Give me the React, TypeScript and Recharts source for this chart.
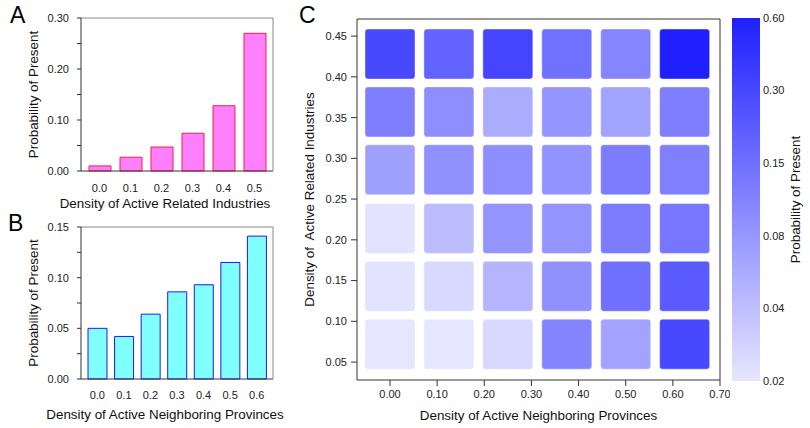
import {
  Bar,
  BarChart,
  ComposedChart,
  ReferenceArea,
  Scatter,
  ScatterChart,
  XAxis,
  YAxis,
} from 'recharts'

const FONT = '"Liberation Sans", Arial, Helvetica, sans-serif'

// Panel A
const relatedCats = ['0.0', '0.1', '0.2', '0.3', '0.4', '0.5']
const relatedProb = [0.01, 0.027, 0.047, 0.074, 0.128, 0.27]
const aTicks = [0, 0.05, 0.1, 0.15, 0.2, 0.25, 0.3]

// Panel B
const neighborCats = ['0.0', '0.1', '0.2', '0.3', '0.4', '0.5', '0.6']
const neighborProb = [0.05, 0.042, 0.064, 0.086, 0.093, 0.115, 0.141]
const bTicks = [0, 0.025, 0.05, 0.075, 0.1, 0.125, 0.15]

// Panel C
const cellX = [0, 0.125, 0.25, 0.375, 0.5, 0.625]
const cellY = [0.428, 0.357, 0.286, 0.214, 0.143, 0.072] // top row first
const cellProb = [
  [0.3, 0.19, 0.32, 0.15, 0.106, 0.6],
  [0.119, 0.091, 0.054, 0.08, 0.064, 0.119],
  [0.067, 0.088, 0.091, 0.083, 0.124, 0.115],
  [0.021, 0.041, 0.082, 0.082, 0.124, 0.137],
  [0.021, 0.025, 0.047, 0.088, 0.152, 0.222],
  [0.02, 0.02, 0.026, 0.108, 0.063, 0.3],
]
const cXTicks = [0, 0.1, 0.2, 0.3, 0.4, 0.5, 0.6, 0.7]
const cYTicks = [0.05, 0.1, 0.15, 0.2, 0.25, 0.3, 0.35, 0.4, 0.45]

// colour bar
const cbarDomain = [0.02, 0.6]
const cbarTicks = [0.02, 0.0395, 0.078, 0.154, 0.304, 0.6]

const LOW = [230, 230, 255]
const HIGH = [32, 32, 255]

function probColor(p: number) {
  const t = Math.max(0, Math.min(1, Math.log(p / cbarDomain[0]) / Math.log(cbarDomain[1] / cbarDomain[0])))
  const c = LOW.map((l, i) => Math.round(l + (HIGH[i] - l) * t))
  return `rgb(${c[0]},${c[1]},${c[2]})`
}

const tickStyle = { fontSize: 11, fill: '#222', fontFamily: FONT }
const titleStyle = { fontSize: 13.4, fill: '#111', fontFamily: FONT }
const AX = '#333'
const AX2 = '#888'

const aData = relatedCats.map((x, i) => ({ x, p: relatedProb[i] }))
const bData = neighborCats.map((x, i) => ({ x, p: neighborProb[i] }))
const cData = cellY.flatMap((y, r) => cellX.map((x, c) => ({ x, y, p: cellProb[r][c] })))

function HeatCell(props: any) {
  const { cx, cy, payload } = props
  if (cx == null || cy == null) return null
  return (
    <rect
      x={cx - 25}
      y={cy - 25}
      width={50}
      height={50}
      rx={3}
      ry={3}
      fill={probColor(payload.p)}
      stroke="#fff"
      strokeOpacity={0.5}
      strokeWidth={0.8}
    />
  )
}

// x-axis title, centred a little left of the plot centre like the original
function shiftedTitle(text: string, bottomOffset: number, shift: number) {
  return (props: any) => {
    const vb = props.viewBox
    if (!vb) return null
    return (
      <text
        x={vb.x + vb.width / 2 + shift}
        y={vb.y + vb.height - bottomOffset}
        textAnchor="middle"
        style={titleStyle}
      >
        {text}
      </text>
    )
  }
}

function SmallBar({
  data,
  ticks,
  major,
  fill,
  stroke,
  barSize,
  pad,
  xTitle,
  width,
  height,
  margin,
  xHeight,
  xTickMargin,
  titleOffset,
}: any) {
  return (
    <BarChart width={width} height={height} data={data} margin={margin}>
      <XAxis
        dataKey="x"
        padding={{ left: pad, right: pad }}
        tick={tickStyle}
        tickLine={false}
        tickSize={0}
        tickMargin={xTickMargin}
        height={xHeight}
        stroke={AX}
        label={{ content: shiftedTitle(xTitle, titleOffset, -12) }}
      />
      <XAxis
        xAxisId="top"
        dataKey="x"
        orientation="top"
        mirror
        padding={{ left: pad, right: pad }}
        tick={false}
        tickSize={5}
        stroke={AX2}
      />
      <YAxis
        domain={[ticks[0], ticks[ticks.length - 1]]}
        ticks={ticks}
        interval={0}
        width={81}
        tickSize={4}
        tickMargin={8}
        tick={tickStyle}
        stroke={AX}
        tickFormatter={(v: number) => (major.includes(v) ? v.toFixed(2) : '')}
        label={{
          value: 'Probability of Present',
          angle: -90,
          position: 'insideLeft',
          offset: 33,
          style: { ...titleStyle, textAnchor: 'middle' },
        }}
      />
      <YAxis
        yAxisId="right"
        orientation="right"
        mirror
        domain={[ticks[0], ticks[ticks.length - 1]]}
        ticks={ticks}
        interval={0}
        tick={false}
        tickSize={4}
        stroke={AX2}
      />
      <Bar dataKey="p" fill={fill} stroke={stroke} strokeWidth={1} barSize={barSize} isAnimationActive={false} />
    </BarChart>
  )
}

export default function App() {
  const letter = { position: 'absolute' as const, fontFamily: FONT, fontSize: 23, lineHeight: '23px', color: '#000' }
  return (
    <div
      style={{
        position: 'absolute',
        left: 0,
        top: 0,
        width: 810,
        height: 428,
        overflow: 'hidden',
        background: '#fff',
        fontFamily: FONT,
      }}
    >
      <div style={{ position: 'absolute', left: 0, top: 0 }}>
        <SmallBar
          data={aData}
          ticks={aTicks}
          major={[0, 0.1, 0.2, 0.3]}
          fill="#ff80ff"
          stroke="#ff1a40"
          barSize={22}
          pad={3}
          xTitle="Density of Active Related Industries"
          width={290}
          height={215}
          margin={{ top: 18, right: 17, left: 0, bottom: 0 }}
          xHeight={44}
          xTickMargin={13}
          titleOffset={7}
        />
      </div>
      <div style={{ position: 'absolute', left: 0, top: 215 }}>
        <SmallBar
          data={bData}
          ticks={bTicks}
          major={[0, 0.05, 0.1, 0.15]}
          fill="#80ffff"
          stroke="#1a1aff"
          barSize={19}
          pad={3}
          xTitle="Density of Active Neighboring Provinces"
          width={290}
          height={213}
          margin={{ top: 12, right: 17, left: 0, bottom: 0 }}
          xHeight={49}
          xTickMargin={12}
          titleOffset={9}
        />
      </div>

      <div style={{ position: 'absolute', left: 290, top: 0 }}>
        <ScatterChart width={440} height={428} margin={{ top: 19, right: 10, left: 0, bottom: 0 }}>
          <XAxis
            xAxisId="b"
            type="number"
            dataKey="x"
            domain={[-0.07, 0.7]}
            allowDataOverflow
            ticks={cXTicks}
            interval={0}
            tickSize={6}
            tickMargin={4}
            tick={tickStyle}
            stroke={AX}
            height={48}
            tickFormatter={(v: number) => v.toFixed(2)}
            label={{
              value: 'Density of Active Neighboring Provinces',
              position: 'insideBottom',
              offset: 8,
              style: titleStyle,
            }}
          />
          <XAxis
            xAxisId="t"
            type="number"
            orientation="top"
            mirror
            domain={[-0.07, 0.7]}
            allowDataOverflow
            ticks={cXTicks}
            interval={0}
            tick={false}
            tickSize={6}
            stroke={AX}
          />
          <YAxis
            yAxisId="l"
            type="number"
            dataKey="y"
            domain={[0.028, 0.471]}
            allowDataOverflow
            ticks={cYTicks}
            interval={0}
            width={67}
            tickSize={6}
            tickMargin={4}
            tick={tickStyle}
            stroke={AX}
            tickFormatter={(v: number) => v.toFixed(2)}
            label={{
              value: 'Density of\u00a0 Active Related Industries',
              angle: -90,
              position: 'insideLeft',
              offset: 19,
              style: { ...titleStyle, textAnchor: 'middle' },
            }}
          />
          <YAxis
            yAxisId="r"
            type="number"
            orientation="right"
            mirror
            domain={[0.028, 0.471]}
            allowDataOverflow
            ticks={cYTicks}
            interval={0}
            tick={false}
            tickSize={6}
            stroke={AX}
          />
          <Scatter
            data={cData}
            xAxisId="b"
            yAxisId="l"
            shape={HeatCell}
            isAnimationActive={false}
          />
        </ScatterChart>
      </div>

      <div style={{ position: 'absolute', left: 720, top: 0 }}>
        <ComposedChart
          width={110}
          height={428}
          data={[{ x: 0 }, { x: 1 }]}
          margin={{ top: 18, right: 0, left: 12, bottom: 47 }}
        >
          <defs>
            <linearGradient id="cbar" x1="0" y1="0" x2="0" y2="1">
              <stop offset="0%" stopColor={probColor(cbarDomain[1])} />
              <stop offset="100%" stopColor={probColor(cbarDomain[0])} />
            </linearGradient>
          </defs>
          <XAxis type="number" dataKey="x" domain={[0, 1]} hide />
          <YAxis
            orientation="right"
            scale="log"
            type="number"
            domain={cbarDomain}
            allowDataOverflow
            ticks={cbarTicks}
            interval={0}
            width={70}
            axisLine={false}
            tickLine={false}
            tickSize={0}
            tickMargin={3}
            tick={tickStyle}
            tickFormatter={(v: number) => v.toFixed(2)}
            label={{
              value: 'Probability of Present',
              angle: -90,
              position: 'insideRight',
              offset: 35,
              style: { ...titleStyle, textAnchor: 'middle' },
            }}
          />
          <ReferenceArea
            x1={0}
            x2={1}
            y1={cbarDomain[0]}
            y2={cbarDomain[1]}
            fill="url(#cbar)"
            fillOpacity={1}
            stroke="none"
            ifOverflow="visible"
          />
        </ComposedChart>
      </div>

      <div style={{ ...letter, left: 10, top: 4 }}>A</div>
      <div style={{ ...letter, left: 8, top: 212 }}>B</div>
      <div style={{ ...letter, left: 299, top: 4 }}>C</div>
    </div>
  )
}
